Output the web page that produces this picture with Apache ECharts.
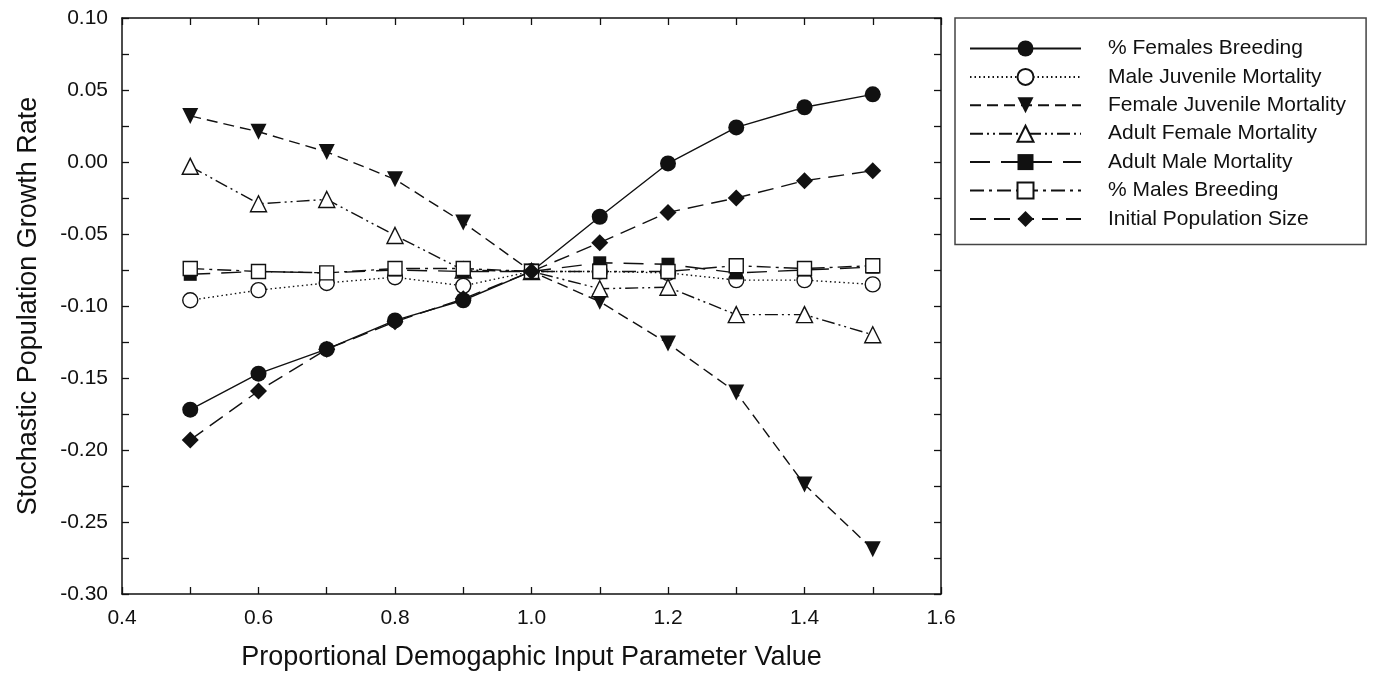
<!DOCTYPE html>
<html>
<head>
<meta charset="utf-8">
<script src="https://cdn.jsdelivr.net/npm/echarts@6/dist/echarts.min.js"></script>
<style>
  html, body { margin: 0; background: #fff; }
  #chart { width: 1375px; height: 679px; }
</style>
</head>
<body>
<div id="chart"></div>
<script>
// proportional input value (x)
const xValues = [0.5, 0.6, 0.7, 0.8, 0.9, 1.0, 1.1, 1.2, 1.3, 1.4, 1.5];

// stochastic growth rate per parameter
const femalesBreeding = [-0.172, -0.147, -0.130, -0.110, -0.096, -0.076, -0.038, -0.001, 0.024, 0.038, 0.047];
const maleJuvMortality = [-0.096, -0.089, -0.084, -0.080, -0.086, -0.076, -0.076, -0.077, -0.082, -0.082, -0.085];
const femaleJuvMortality = [0.032, 0.021, 0.007, -0.012, -0.042, -0.076, -0.097, -0.126, -0.160, -0.224, -0.269];
const adultFemaleMortality = [-0.003, -0.029, -0.026, -0.051, -0.075, -0.076, -0.088, -0.087, -0.106, -0.106, -0.120];
const adultMaleMortality = [-0.078, -0.076, -0.077, -0.075, -0.076, -0.076, -0.070, -0.071, -0.077, -0.075, -0.073];
const malesBreeding = [-0.074, -0.076, -0.077, -0.074, -0.074, -0.076, -0.076, -0.076, -0.072, -0.074, -0.072];
const initialPopSize = [-0.193, -0.159, -0.130, -0.111, -0.095, -0.076, -0.056, -0.035, -0.025, -0.013, -0.006];

const FONT = 'Liberation Sans, Arial, sans-serif';
const INK = '#111';

const chart = echarts.init(document.getElementById('chart'));

function pairs(ys) {
  return xValues.map((x, i) => [x, ys[i]]);
}

function makeSeries(name, ys, symbol, open, dash, size, rotate) {
  return {
    name: name,
    type: 'line',
    data: pairs(ys),
    symbol: symbol,
    symbolSize: size,
    symbolRotate: rotate || 0,
    showAllSymbol: true,
    lineStyle: { color: INK, width: 1.4, type: dash },
    itemStyle: { color: open ? '#fff' : INK, borderColor: INK, borderWidth: open ? 1.4 : 0, opacity: 1 },
    emphasis: { disabled: true },
    animation: false
  };
}

const valueAxisBase = {
  type: 'value',
  axisLine: { show: true, onZero: false, lineStyle: { color: INK, width: 1.5 } },
  axisTick: { show: true, inside: true, length: 7, lineStyle: { color: INK, width: 1.3 } },
  minorTick: { show: true, splitNumber: 2, length: 7, lineStyle: { color: INK, width: 1.3 } },
  splitLine: { show: false }
};

const option = {
  backgroundColor: '#fff',
  animation: false,
  grid: { left: 122, right: 434, top: 18, bottom: 85 },
  legend: {
    orient: 'vertical',
    left: 955,
    top: 18,
    itemWidth: 111,
    itemHeight: 20,
    itemGap: 7.4,
    padding: [20, 20, 15, 14],
    borderColor: '#444',
    borderWidth: 1.5,
    textStyle: { fontFamily: FONT, fontSize: 21, color: INK, padding: [0, 0, 0, 22] },
    data: ['% Females Breeding', 'Male Juvenile Mortality', 'Female Juvenile Mortality',
      'Adult Female Mortality', 'Adult Male Mortality', '% Males Breeding', 'Initial Population Size']
  },
  xAxis: [
    Object.assign({}, valueAxisBase, {
      position: 'bottom',
      min: 0.4, max: 1.6, interval: 0.2,
      name: 'Proportional Demogaphic Input Parameter Value',
      nameLocation: 'middle',
      nameGap: 50,
      nameTextStyle: { fontFamily: FONT, fontSize: 27, color: INK },
      axisLabel: { fontFamily: FONT, fontSize: 21, color: INK, margin: 14,
        formatter: v => v.toFixed(1) }
    }),
    Object.assign({}, valueAxisBase, {
      position: 'top',
      min: 0.4, max: 1.6, interval: 0.2,
      axisLabel: { show: false }
    })
  ],
  yAxis: [
    Object.assign({}, valueAxisBase, {
      position: 'left',
      min: -0.30, max: 0.10, interval: 0.05,
      name: 'Stochastic Population Growth Rate',
      nameLocation: 'middle',
      nameGap: 80,
      nameTextStyle: { fontFamily: FONT, fontSize: 27, color: INK },
      axisLabel: { fontFamily: FONT, fontSize: 21, color: INK, margin: 14,
        formatter: v => (Math.abs(v) < 1e-9 ? 0 : v).toFixed(2) }
    }),
    Object.assign({}, valueAxisBase, {
      position: 'right',
      min: -0.30, max: 0.10, interval: 0.05,
      axisLabel: { show: false }
    })
  ],
  series: [
    makeSeries('% Females Breeding', femalesBreeding, 'circle', false, 'solid', 16),
    makeSeries('Male Juvenile Mortality', maleJuvMortality, 'circle', true, [1.5, 3], 15),
    makeSeries('Female Juvenile Mortality', femaleJuvMortality, 'triangle', false, [11, 6], 16, 180),
    makeSeries('Adult Female Mortality', adultFemaleMortality, 'triangle', true, [13, 4, 2, 4, 2, 4], 16),
    makeSeries('Adult Male Mortality', adultMaleMortality, 'rect', false, [20, 11], 13),
    makeSeries('% Males Breeding', malesBreeding, 'rect', true, [14, 5, 3, 5], 14),
    makeSeries('Initial Population Size', initialPopSize, 'diamond', false, [16, 8], 17)
  ]
};

chart.setOption(option);
</script>
</body>
</html>
